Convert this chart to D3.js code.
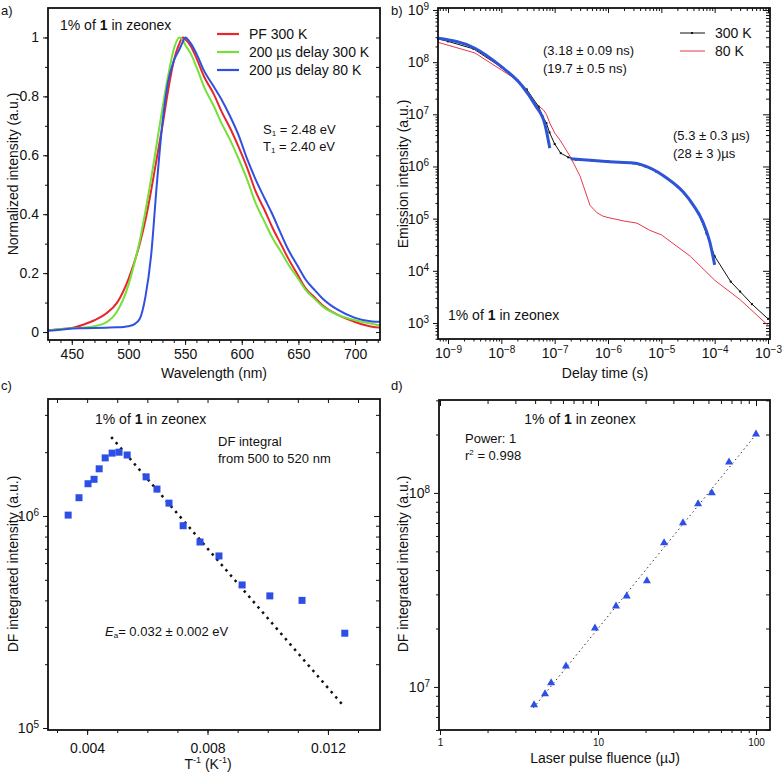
<!DOCTYPE html>
<html>
<head>
<meta charset="utf-8">
<script src="https://cdn.jsdelivr.net/npm/d3@7"></script>
<style>
body { margin: 0; background: #fff; }
svg text { font-family: "Liberation Sans", Arial, sans-serif; fill: #111; }
</style>
</head>
<body>
<svg id="chart"></svg>
<script>
// ---- a) normalized spectra ----
const wavelengths = [429, 440, 450, 460, 470, 480, 490, 500, 505, 510, 515, 520, 525, 530, 535, 540, 545, 548, 550, 555, 560, 567, 575, 582, 590, 597, 605, 612, 620, 627, 635, 641, 650, 656, 665, 671, 685, 700, 715, 722];
const pf300 = [0.005, 0.01, 0.014, 0.025, 0.04, 0.062, 0.10, 0.18, 0.235, 0.30, 0.38, 0.48, 0.59, 0.70, 0.82, 0.92, 0.98, 1.0, 0.995, 0.97, 0.93, 0.865, 0.81, 0.75, 0.69, 0.63, 0.555, 0.48, 0.415, 0.355, 0.295, 0.25, 0.19, 0.15, 0.115, 0.092, 0.058, 0.034, 0.018, 0.015];
const delay300 = [0.005, 0.01, 0.013, 0.015, 0.02, 0.032, 0.07, 0.16, 0.23, 0.31, 0.41, 0.52, 0.64, 0.76, 0.87, 0.96, 1.0, 0.99, 0.975, 0.945, 0.90, 0.83, 0.77, 0.71, 0.65, 0.59, 0.515, 0.44, 0.375, 0.32, 0.27, 0.23, 0.18, 0.145, 0.11, 0.088, 0.058, 0.04, 0.028, 0.022];
const delay80 = [0.005, 0.008, 0.012, 0.013, 0.014, 0.015, 0.016, 0.02, 0.026, 0.045, 0.12, 0.26, 0.50, 0.71, 0.85, 0.92, 0.96, 0.985, 1.0, 0.98, 0.945, 0.885, 0.835, 0.79, 0.73, 0.67, 0.585, 0.52, 0.455, 0.40, 0.33, 0.28, 0.22, 0.18, 0.14, 0.115, 0.075, 0.048, 0.036, 0.035];
const specNames = ["PF 300 K", "200 \u00b5s delay 300 K", "200 \u00b5s delay 80 K"];
const specColors = ["#e8262c", "#74e03a", "#3050e0"];

// ---- b) decays ----
const t300 = [6.5e-10, 1e-9, 3e-9, 1e-8, 2e-8, 3e-8, 5e-8, 6e-8, 7e-8, 8e-8, 1e-7, 1.3e-7, 1.8e-7, 2.5e-7, 5e-7, 1e-6, 2e-6, 3e-6, 5e-6, 8e-6, 1.26e-5, 2e-5, 3e-5, 5e-5, 7e-5, 1e-4, 2e-4, 3e-4, 5e-4, 1e-3];
const i300 = [2.8e8, 2.5e8, 1.8e8, 8e7, 4.5e7, 3e7, 1.4e7, 9e6, 6.8e6, 4.5e6, 2.7e6, 1.8e6, 1.5e6, 1.35e6, 1.3e6, 1.25e6, 1.2e6, 1.15e6, 1.0e6, 8.0e5, 6.0e5, 4.1e5, 2.7e5, 1.25e5, 5.2e4, 1.9e4, 6.2e3, 4e3, 2.3e3, 1.2e3];
const t80 = [6.5e-10, 3.2e-9, 1e-8, 2e-8, 3.7e-8, 6.2e-8, 7e-8, 8.1e-8, 1e-7, 1.26e-7, 1.95e-7, 3e-7, 4.6e-7, 6.2e-7, 8e-7, 1e-6, 2e-6, 3.5e-6, 6e-6, 1e-5, 3.5e-5, 1e-4, 3e-4, 1e-3];
const i80 = [2.4e8, 1.5e8, 7.1e7, 4.5e7, 1.9e7, 1.2e7, 1e7, 6.8e6, 4.4e6, 3.2e6, 1.56e6, 6.5e5, 1.8e5, 1.3e5, 1.12e5, 1.05e5, 9e4, 8.2e4, 6e4, 4.9e4, 1.9e4, 6.6e3, 2.8e3, 9e2];
const fitT1 = [6.5e-10, 3.2e-9, 1e-8, 2.4e-8, 4.3e-8, 6.6e-8, 8.1e-8];
const fitI1 = [2.86e8, 1.85e8, 8.2e7, 3.6e7, 1.5e7, 6.3e6, 2.25e6];
const fitT2 = [2e-7, 1.1e-6, 3e-6, 6.2e-6, 1.26e-5, 2.6e-5, 4e-5, 6e-5, 8.1e-5, 1e-4];
const fitI2 = [1.4e6, 1.23e6, 1.17e6, 9.3e5, 6.0e5, 3.2e5, 1.8e5, 8.7e4, 3.6e4, 1.3e4];

// ---- c) DF integral vs 1/T ----
const invT = [0.00337, 0.00373, 0.00403, 0.00423, 0.0044, 0.0046, 0.00483, 0.00506, 0.00533, 0.00596, 0.00632, 0.00672, 0.00719, 0.00775, 0.00838, 0.00915, 0.01007, 0.01114, 0.01256];
const dfInt = [1.01e6, 1.22e6, 1.42e6, 1.49e6, 1.67e6, 1.88e6, 1.98e6, 2.0e6, 1.94e6, 1.53e6, 1.34e6, 1.15e6, 9.0e5, 7.54e5, 6.48e5, 4.73e5, 4.2e5, 4.0e5, 2.8e5];
const arrFitX = [0.0048, 0.0125];
const arrFitY = [2.36e6, 1.28e5];

// ---- d) DF integral vs fluence ----
const fluence = [3.94, 4.62, 5.05, 6.27, 9.57, 13.0, 15.2, 20.4, 26.2, 34.5, 43.0, 52.5, 67.5, 100];
const dfFluence = [8.07e6, 9.2e6, 1.05e7, 1.28e7, 2.01e7, 2.61e7, 2.94e7, 3.52e7, 5.52e7, 7.0e7, 8.78e7, 1.0e8, 1.44e8, 2.01e8];
const powFitX = [3.9, 100];
const powFitY = [7.8e6, 2.0e8];

const markerBlue = "#2d4fe6";
const FONT = "Liberation Sans, Arial, sans-serif";

const svg = d3.select("#chart").attr("width", 784).attr("height", 774);

function axis(g, ax, tf, size, labels) {
    const a = g.append("g").attr("transform", tf)
        .call(ax.tickSize(size).tickPadding(4))
        .attr("font-family", FONT).attr("font-size", 14).attr("color", "#111");
    a.select(".domain").remove();
    if (!labels) a.selectAll("text").remove();
    return a;
}

function supLabels(a, fs) {
    a.selectAll("text").each(function(d) {
        const t = d3.select(this);
        const e = Math.round(Math.log10(d));
        t.text(null);
        t.append("tspan").text("10");
        t.append("tspan").attr("dy", "-0.5em").attr("font-size", fs || 10).text(e < 0 ? "\u2212" + (-e) : e);
    });
}

function frame(g, x0, y0, x1, y1) {
    g.append("rect").attr("x", x0).attr("y", y0).attr("width", x1 - x0).attr("height", y1 - y0)
        .attr("fill", "none").attr("stroke", "#111").attr("stroke-width", 1.8);
}

function txt(g, x, y, s, fs, anchor) {
    return g.append("text").attr("x", x).attr("y", y).attr("font-size", fs || 13)
        .attr("text-anchor", anchor || "start").text(s);
}

function zeonex(g, x, y, anchor) {
    const t = g.append("text").attr("x", x).attr("y", y).attr("font-size", 14).attr("text-anchor", anchor || "start");
    t.append("tspan").text("1% of ");
    t.append("tspan").attr("font-weight", "bold").text("1");
    t.append("tspan").text(" in zeonex");
}

function yTitle(g, x, y, s) {
    g.append("text").attr("transform", `translate(${x},${y}) rotate(-90)`)
        .attr("text-anchor", "middle").attr("font-size", 14).text(s);
}

function isDecade(v) { return Math.abs(Math.log10(v) - Math.round(Math.log10(v))) < 1e-6; }

// ================= panel a =================
const ga = svg.append("g");
const xa = d3.scaleLinear().domain([429, 722]).range([48, 380]);
const ya = d3.scaleLinear().domain([-0.027, 1.10]).range([340, 8]);

axis(ga, d3.axisBottom(xa).tickValues(d3.range(430, 722, 10)), "translate(0,340)", 3, false);
axis(ga, d3.axisBottom(xa).tickValues(d3.range(450, 701, 50)), "translate(0,340)", 5, true);
axis(ga, d3.axisLeft(ya).tickValues(d3.range(0, 1.05, 0.1)), "translate(48,0)", 3, false);
axis(ga, d3.axisLeft(ya).tickValues([0, 0.2, 0.4, 0.6, 0.8, 1])
    .tickFormat(d => d === 0 ? "0" : d === 1 ? "1" : d3.format(".1f")(d)), "translate(48,0)", 5, true);
axis(ga, d3.axisLeft(ya).tickValues(d3.range(0, 1.05, 0.1)), "translate(380,0)", 4, false);

const lineA = d3.line().curve(d3.curveMonotoneX).x(d => xa(d[0])).y(d => ya(d[1]));
[pf300, delay300, delay80].forEach((s, i) => {
    ga.append("path").datum(d3.zip(wavelengths, s)).attr("d", lineA)
        .attr("fill", "none").attr("stroke", specColors[i]).attr("stroke-width", 2);
});
frame(ga, 48, 8, 380, 340);

specNames.forEach((n, i) => {
    const y = 34 + i * 18;
    ga.append("line").attr("x1", 217).attr("x2", 239).attr("y1", y).attr("y2", y)
        .attr("stroke", specColors[i]).attr("stroke-width", 2.2);
    txt(ga, 249, y + 5, n, 14);
});
zeonex(ga, 60, 30);
const s1 = txt(ga, 263, 134, "S", 13);
s1.append("tspan").attr("font-size", 8).attr("dy", 2).text("1");
s1.append("tspan").attr("dy", -2).text(" = 2.48 eV");
const t1 = txt(ga, 263, 151, "T", 13);
t1.append("tspan").attr("font-size", 8).attr("dy", 2).text("1");
t1.append("tspan").attr("dy", -2).text(" = 2.40 eV");
txt(ga, 214, 378, "Wavelength (nm)", 14, "middle");
yTitle(ga, 18, 174, "Normalized intensity (a.u.)");
txt(ga, 1, 15, "a)", 13);

// ================= panel b =================
const gb = svg.append("g");
const xb = d3.scaleLog().domain([Math.pow(10, -9.1875), Math.pow(10, -2.9625)]).range([438, 770]);
const yb = d3.scaleLog().domain([Math.pow(10, 2.693), Math.pow(10, 9.038)]).range([339, 8]);
const xbMin = xb.ticks().filter(v => !isDecade(v));
const xbMaj = xb.ticks().filter(isDecade);
const ybMin = yb.ticks().filter(v => !isDecade(v));
const ybMaj = yb.ticks().filter(isDecade);

axis(gb, d3.axisBottom(xb).tickValues(xbMin), "translate(0,339)", 2.5, false);
supLabels(axis(gb, d3.axisBottom(xb).tickValues(xbMaj), "translate(0,339)", 5, true), 10);
axis(gb, d3.axisBottom(xb).tickValues(xbMin), "translate(0,8)", 3, false);
axis(gb, d3.axisBottom(xb).tickValues(xbMaj), "translate(0,8)", 5, false);
axis(gb, d3.axisLeft(yb).tickValues(ybMin), "translate(438,0)", 2.5, false);
supLabels(axis(gb, d3.axisLeft(yb).tickValues(ybMaj), "translate(438,0)", 5, true), 10);
axis(gb, d3.axisLeft(yb).tickValues(ybMin), "translate(770,0)", 4, false);
axis(gb, d3.axisLeft(yb).tickValues(ybMaj), "translate(770,0)", 7, false);

const lineB = d3.line().x(d => xb(d[0])).y(d => yb(d[1]));
gb.append("path").datum(d3.zip(t80, i80)).attr("d", lineB)
    .attr("fill", "none").attr("stroke", "#e8384a").attr("stroke-width", 1);
gb.append("path").datum(d3.zip(t300, i300)).attr("d", lineB)
    .attr("fill", "none").attr("stroke", "#111").attr("stroke-width", 1);
gb.selectAll(".m300").data(d3.zip(t300, i300)).enter().append("rect")
    .attr("x", d => xb(d[0]) - 1).attr("y", d => yb(d[1]) - 1)
    .attr("width", 2).attr("height", 2).attr("fill", "#111");
const lineFit = d3.line().curve(d3.curveMonotoneX).x(d => xb(d[0])).y(d => yb(d[1]));
[[fitT1, fitI1], [fitT2, fitI2]].forEach(f => {
    gb.append("path").datum(d3.zip(f[0], f[1])).attr("d", lineFit)
        .attr("fill", "none").attr("stroke", "#2d55d6").attr("stroke-width", 3);
});
frame(gb, 438, 8, 770, 339);

gb.append("line").attr("x1", 680).attr("x2", 705).attr("y1", 33).attr("y2", 33).attr("stroke", "#111");
gb.append("rect").attr("x", 691).attr("y", 32).attr("width", 2).attr("height", 2).attr("fill", "#111");
txt(gb, 715, 38, "300 K", 14);
gb.append("line").attr("x1", 680).attr("x2", 705).attr("y1", 51).attr("y2", 51).attr("stroke", "#e8384a");
txt(gb, 715, 56, "80 K", 14);
txt(gb, 543, 55, "(3.18 \u00b1 0.09 ns)", 13);
txt(gb, 543, 73, "(19.7 \u00b1 0.5 ns)", 13);
txt(gb, 673, 140, "(5.3 \u00b1 0.3 \u00b5s)", 13);
txt(gb, 673, 158, "(28 \u00b1 3 )\u00b5s", 13);
zeonex(gb, 448, 320);
txt(gb, 605, 378, "Delay time (s)", 14, "middle");
yTitle(gb, 408, 174, "Emission intensity (a.u.)");
txt(gb, 391, 15, "b)", 13);

// ================= panel c =================
const gc = svg.append("g");
const xc = d3.scaleLinear().domain([0.0027, 0.01373]).range([48, 380]);
const yc = d3.scaleLog().domain([Math.pow(10, 4.9906), Math.pow(10, 6.552)]).range([730, 399]);
const xcAll = d3.range(3, 14).map(v => v / 1000);
const ycMin = yc.ticks().filter(v => !isDecade(v));

axis(gc, d3.axisBottom(xc).tickValues(xcAll), "translate(0,730)", 3, false);
axis(gc, d3.axisBottom(xc).tickValues([0.004, 0.008, 0.012]).tickFormat(d3.format(".3f")), "translate(0,730)", 5, true)
    .selectAll("text").attr("dy", "1em");
axis(gc, d3.axisBottom(xc).tickValues(xcAll), "translate(0,399)", 4, false);
axis(gc, d3.axisLeft(yc).tickValues(ycMin), "translate(48,0)", 3, false);
supLabels(axis(gc, d3.axisLeft(yc).tickValues([1e5, 1e6]), "translate(48,0)", 5, true), 10);
axis(gc, d3.axisLeft(yc).tickValues(ycMin), "translate(380,0)", 4, false);
axis(gc, d3.axisLeft(yc).tickValues([1e6]), "translate(380,0)", 6, false);

gc.append("path").datum(d3.zip(arrFitX, arrFitY))
    .attr("d", d3.line().x(d => xc(d[0])).y(d => yc(d[1])))
    .attr("fill", "none").attr("stroke", "#111").attr("stroke-width", 2.5).attr("stroke-dasharray", "2.5,4.5");
gc.selectAll(".sq").data(d3.zip(invT, dfInt)).enter().append("rect")
    .attr("x", d => xc(d[0]) - 3.5).attr("y", d => yc(d[1]) - 3.5)
    .attr("width", 7).attr("height", 7).attr("fill", markerBlue);
frame(gc, 48, 399, 380, 730);

zeonex(gc, 95, 424);
txt(gc, 218, 446, "DF integral", 13);
txt(gc, 218, 463, "from 500 to 520 nm", 13);
const ea = gc.append("text").attr("x", 105).attr("y", 636).attr("font-size", 13);
ea.append("tspan").attr("font-style", "italic").text("E");
ea.append("tspan").attr("font-size", 8).attr("dy", 2).text("a");
ea.append("tspan").attr("dy", -2).text("= 0.032 \u00b1 0.002 eV");
const xtc = gc.append("text").attr("x", 208).attr("y", 769).attr("font-size", 14).attr("text-anchor", "middle");
xtc.append("tspan").text("T");
xtc.append("tspan").attr("font-size", 9).attr("dy", -6).text("-1");
xtc.append("tspan").attr("dy", 6).text(" (K");
xtc.append("tspan").attr("font-size", 9).attr("dy", -6).text("-1");
xtc.append("tspan").attr("dy", 6).text(")");
yTitle(gc, 18, 564, "DF integrated intensity (a.u.)");
txt(gc, 1, 390, "c)", 13);

// ================= panel d =================
const gd = svg.append("g");
const xd = d3.scaleLog().domain([Math.pow(10, -0.0063), Math.pow(10, 2.0886)]).range([439, 770]);
const yd = d3.scaleLog().domain([Math.pow(10, 6.778), Math.pow(10, 8.479)]).range([730, 400]);
const xdMin = xd.ticks().filter(v => !isDecade(v));
const xdMaj = [1, 10, 100];
const ydMin = yd.ticks().filter(v => !isDecade(v));

axis(gd, d3.axisBottom(xd).tickValues(xdMin), "translate(0,730)", 3, false);
axis(gd, d3.axisBottom(xd).tickValues(xdMaj).tickFormat(d3.format("d")), "translate(0,730)", 5, true)
    .attr("font-size", 10);
axis(gd, d3.axisBottom(xd).tickValues(xdMin), "translate(0,400)", 4, false);
axis(gd, d3.axisBottom(xd).tickValues(xdMaj), "translate(0,400)", 6, false);
axis(gd, d3.axisLeft(yd).tickValues(ydMin), "translate(439,0)", 3, false);
supLabels(axis(gd, d3.axisLeft(yd).tickValues([1e7, 1e8]), "translate(439,0)", 5, true), 10);
axis(gd, d3.axisLeft(yd).tickValues(ydMin), "translate(770,0)", 4, false);
axis(gd, d3.axisLeft(yd).tickValues([1e7, 1e8]), "translate(770,0)", 6, false);

gd.append("path").datum(d3.zip(powFitX, powFitY))
    .attr("d", d3.line().x(d => xd(d[0])).y(d => yd(d[1])))
    .attr("fill", "none").attr("stroke", "#333").attr("stroke-width", 1).attr("stroke-dasharray", "1.5,3");
gd.selectAll(".tri").data(d3.zip(fluence, dfFluence)).enter().append("path")
    .attr("d", d3.symbol().type(d3.symbolTriangle).size(28))
    .attr("transform", d => `translate(${xd(d[0])},${yd(d[1])})`)
    .attr("fill", markerBlue);
frame(gd, 439, 400, 770, 730);

zeonex(gd, 580, 424, "middle");
txt(gd, 465, 443, "Power: 1", 13);
const r2 = txt(gd, 465, 460, "r", 13);
r2.append("tspan").attr("font-size", 8).attr("dy", -5).text("2");
r2.append("tspan").attr("dy", 5).text(" = 0.998");
txt(gd, 605, 763, "Laser pulse fluence (\u00b5J)", 14, "middle");
yTitle(gd, 408, 564, "DF integrated intensity (a.u.)");
txt(gd, 391, 390, "d)", 13);
</script>
</body>
</html>
